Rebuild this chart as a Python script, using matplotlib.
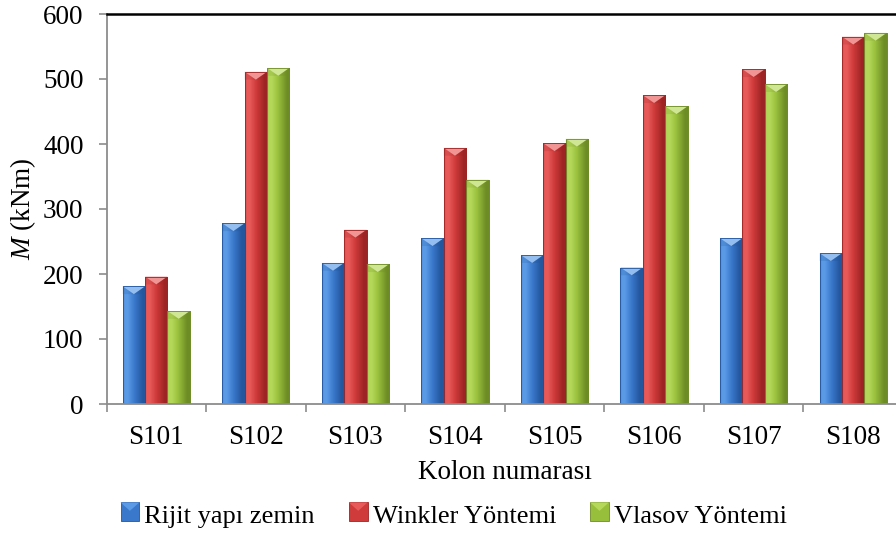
import numpy as np
import matplotlib
matplotlib.use("Agg")
import matplotlib.pyplot as plt
from matplotlib.colors import LinearSegmentedColormap, to_rgb
from matplotlib.patches import Polygon, Rectangle
from matplotlib.legend_handler import HandlerBase

categories = ["S101", "S102", "S103", "S104", "S105", "S106", "S107", "S108"]
rijit = [181, 278, 217, 255, 229, 210, 255, 232]
winkler = [196, 511, 268, 394, 401, 475, 515, 565]
vlasov = [143, 517, 215, 345, 408, 458, 492, 571]
series_names = ["Rijit yapı zemin", "Winkler Yöntemi", "Vlasov Yöntemi"]
yticks = [0, 100, 200, 300, 400, 500, 600]

# light / mid / dark shades for each series
shades = [
    ("#5b9be6", "#3a78cc", "#23569c"),
    ("#e85a5a", "#cf3a3a", "#9c2424"),
    ("#b5d85a", "#98bf3c", "#6e8c26"),
]

plt.rcParams["font.family"] = ["Liberation Serif", "DejaVu Serif"]
plt.rcParams["mathtext.fontset"] = "custom"
plt.rcParams["mathtext.it"] = "Liberation Serif:italic"
plt.rcParams["mathtext.rm"] = "Liberation Serif"

FS = 19.5
fig = plt.figure(figsize=(8.96, 5.33), dpi=100)
W, H = 896, 533
left_px, right_px, bottom_px, top_px = 106.5, 903.0, 404.0, 14.0
ax = fig.add_axes([left_px / W, 1 - bottom_px / H,
                   (right_px - left_px) / W, (bottom_px - top_px) / H])

x = np.arange(len(categories))
width = 0.225
offsets = [-width, 0, width]
data = [rijit, winkler, vlasov]


def gradient_img(light, mid, dark, n=64):
    cm = LinearSegmentedColormap.from_list(
        "g", [(0, mid), (0.06, light), (0.2, light), (0.5, mid),
              (0.88, dark), (1.0, dark)])
    return cm(np.linspace(0, 1, n))[None, :, :]


for vals, off, (lc, mc, dc) in zip(data, offsets, shades):
    bars = ax.bar(x + off, vals, width, color=mc, edgecolor=dc, linewidth=0.6,
                  zorder=2)
    img = gradient_img(lc, mc, dc)
    light = np.array(to_rgb(lc))
    hi = tuple(np.clip(light + (1 - light) * 0.35, 0, 1))
    for b in bars:
        x0, w, h = b.get_x(), b.get_width(), b.get_height()
        im = ax.imshow(img, extent=(x0, x0 + w, 0, h), aspect="auto",
                       zorder=2.1, interpolation="bicubic")
        im.set_clip_path(b)
        # bevelled top: light chevron between two shaded corners
        ch = 12
        ax.add_patch(Polygon([(x0, h), (x0 + w, h), (x0 + w / 2, h - ch)],
                             closed=True, facecolor=hi, edgecolor="none",
                             zorder=2.2))
        ax.add_patch(Polygon([(x0, h), (x0 + w / 2, h - ch), (x0, h - ch)],
                             closed=True, facecolor=dc, alpha=0.2,
                             edgecolor="none", zorder=2.2))
        ax.add_patch(Polygon([(x0 + w, h), (x0 + w / 2, h - ch), (x0 + w, h - ch)],
                             closed=True, facecolor=dc, alpha=0.3,
                             edgecolor="none", zorder=2.2))
        ax.add_patch(Rectangle((x0, 0), w, h, facecolor="none", edgecolor=dc,
                               linewidth=0.6, zorder=2.3))

ax.set_xlim(-0.5, len(categories) - 0.5)
ax.set_ylim(0, 600)

ax.set_yticks(yticks)
ax.set_xticks(x)
ax.set_xticklabels(categories)
ax.set_xticks(np.arange(-0.5, len(categories)), minor=True)
ax.tick_params(axis="x", which="major", length=0, labelsize=FS, pad=15)
ax.tick_params(axis="x", which="minor", length=5.5, color="#8c8c8c", width=1.2)
ax.tick_params(axis="y", length=5.5, color="#8c8c8c", width=1.2, labelsize=FS,
               pad=11)

for s in ("left", "bottom"):
    ax.spines[s].set_color("#8c8c8c")
    ax.spines[s].set_linewidth(1.3)
ax.spines["top"].set_color("black")
ax.spines["top"].set_linewidth(1.8)
ax.spines["right"].set_visible(False)

ax.set_xlabel("Kolon numarası", fontsize=FS, labelpad=7.5)
fig.text(23 / W, 1 - 209 / H, "$M$ (kNm)", rotation=90, fontsize=FS,
         ha="center", va="center")


class GradientSquare(HandlerBase):
    def __init__(self, colors):
        super().__init__()
        self.colors = colors

    def create_artists(self, legend, orig_handle, xdescent, ydescent, width,
                       height, fontsize, trans):
        lc, mc, dc = self.colors
        s = 13.5
        x0, y0 = -xdescent + width - s, -ydescent
        r = Rectangle((x0, y0), s, s, facecolor=mc, edgecolor=dc,
                      linewidth=0.6, transform=trans)
        tri = Polygon([(x0, y0 + s), (x0 + s, y0 + s),
                       (x0 + s / 2, y0 + s * 0.55)],
                      facecolor=lc, edgecolor="none", transform=trans)
        return [r, tri]


handles = [Rectangle((0, 0), 1, 1) for _ in series_names]
handler_map = {h: GradientSquare(c) for h, c in zip(handles, shades)}
fig.legend(handles, series_names, handler_map=handler_map, loc="center",
           bbox_to_anchor=(456.5 / W, 1 - 517 / H), ncol=3, frameon=False,
           fontsize=19, handlelength=0.5, handleheight=0.5,
           handletextpad=0.19, columnspacing=1.5, borderpad=0.1)

fig.savefig("out.png", dpi=100)
